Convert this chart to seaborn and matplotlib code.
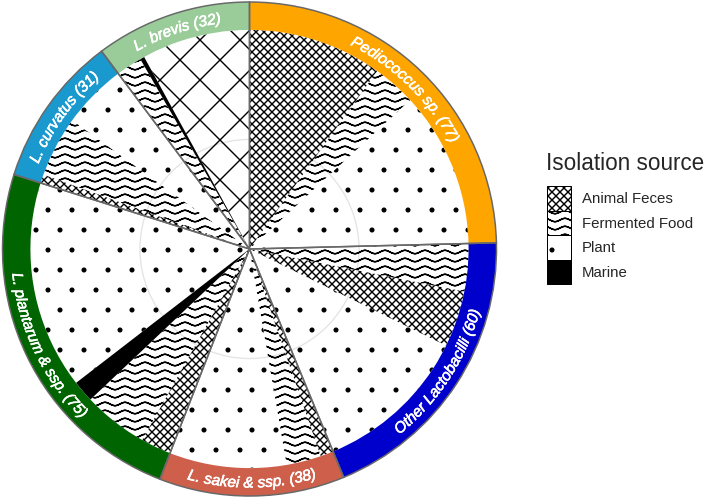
import numpy as np
import matplotlib
matplotlib.use("Agg")
import matplotlib.pyplot as plt
import matplotlib.hatch as mhatch
import matplotlib.patches as mpatches
import matplotlib.patheffects as pe
from matplotlib.path import Path
from matplotlib.font_manager import FontProperties, findfont, get_font
import seaborn as sns

# ---- data ----
groups = ["Pediococcus sp.", "Other Lactobacilli", "L. sakei & ssp.",
          "L. plantarum & ssp.", "L. curvatus", "L. brevis"]
group_counts = [77, 60, 38, 75, 31, 32]
group_colors = ["#FFA500", "#0000CD", "#CD5F4B", "#006400", "#1A99CE", "#99CC99"]

sources = ["Animal Feces", "Fermented Food", "Plant", "Marine"]

# isolation sources inside each group, clockwise
group_sources = [
    ["Animal Feces", "Fermented Food", "Plant"],
    ["Fermented Food", "Animal Feces", "Plant"],
    ["Animal Feces", "Fermented Food", "Plant"],
    ["Animal Feces", "Fermented Food", "Marine", "Plant"],
    ["Animal Feces", "Fermented Food", "Plant"],
    ["Fermented Food", "Marine", "Animal Feces"],
]
group_source_counts = [
    [31, 10, 36],
    [11, 13, 36],
    [3, 8, 27],
    [7, 15, 5, 48],
    [2, 14, 15],
    [6, 1, 25],
]

DPI = 120


# ---- ggpattern-like fills as custom hatches ----
class WaveHatch(mhatch.HatchPatternBase):
    """'-' drawn as wavy lines."""
    n_lines, n_waves, amp, n_pts = 15, 6, 0.0145, 49

    def __init__(self, hatch, density):
        self.num_lines = self.n_lines if "-" in hatch else 0
        self.seg = 2 * self.n_pts - 1
        self.num_vertices = self.num_lines * self.seg

    def set_vertices_and_codes(self, vertices, codes):
        t = np.linspace(0, 1, self.n_pts)
        xs = np.concatenate([t, t[-2::-1]])  # out and back, so the fill adds no area
        wave = self.amp * np.sin(2 * np.pi * self.n_waves * xs)
        for i in range(self.num_lines):
            s = slice(i * self.seg, (i + 1) * self.seg)
            vertices[s, 0] = xs
            vertices[s, 1] = (i + 0.5) / self.num_lines + wave
            codes[s] = Path.LINETO
            codes[i * self.seg] = Path.MOVETO


class CrossHatch(mhatch.HatchPatternBase):
    """'x' fine diagonal cross, '+' coarse diagonal cross."""

    def __init__(self, hatch, density):
        self.n = 15 if "x" in hatch else (3 if "+" in hatch else 0)
        self.num_vertices = 4 * (2 * self.n + 1) if self.n else 0

    def set_vertices_and_codes(self, vertices, codes):
        c = np.arange(-self.n, self.n + 1) / self.n
        m = len(c)
        vertices[0:2 * m:2] = np.column_stack([np.zeros(m), c])
        vertices[1:2 * m:2] = np.column_stack([np.ones(m), c + 1])
        vertices[2 * m::2] = np.column_stack([np.zeros(m), c + 1])
        vertices[2 * m + 1::2] = np.column_stack([np.ones(m), c])
        codes[0::2] = Path.MOVETO
        codes[1::2] = Path.LINETO


class DotHatch(mhatch.HatchPatternBase):
    """'.' staggered dots."""
    rows, cols, radius = 6, 5, 0.015

    def __init__(self, hatch, density):
        self.circle = Path.unit_circle()
        pts = []
        if "." in hatch:
            for r in range(self.rows):
                if r % 2 == 0:
                    xs = (np.arange(self.cols) + 0.5) / self.cols
                else:
                    xs = np.arange(self.cols + 1) / self.cols
                pts += [(x, (r + 0.5) / self.rows) for x in xs]
        self.centers = pts
        self.num_vertices = len(pts) * len(self.circle.vertices)

    def set_vertices_and_codes(self, vertices, codes):
        k = len(self.circle.vertices)
        for i, (x, y) in enumerate(self.centers):
            vertices[i * k:(i + 1) * k] = self.circle.vertices * self.radius + (x, y)
            codes[i * k:(i + 1) * k] = self.circle.codes


mhatch._hatch_types[:] = [WaveHatch, CrossHatch, DotHatch]

source_hatch = {"Animal Feces": "x", "Fermented Food": "-", "Plant": ".", "Marine": ""}
coarse_groups = ["L. brevis"]

sns.set_theme(style="white")
plt.rcParams["font.family"] = ["Liberation Sans", "DejaVu Sans"]
plt.rcParams["hatch.linewidth"] = 0.85
palette = sns.color_palette(group_colors)

fig = plt.figure(figsize=(708 / DPI, 498 / DPI), dpi=DPI)
cx, cy, R_px = 249.5, 249.0, 247.0
lim = 1.02
half = R_px * lim
ax = fig.add_axes([(cx - half) / 708, (498 - cy - half) / 498,
                   2 * half / 708, 2 * half / 498])

r_ring = 0.887

flat_n, flat_hatch, flat_face = [], [], []
for g, src, cnt in zip(groups, group_sources, group_source_counts):
    for s, n in zip(src, cnt):
        flat_n.append(n)
        h = source_hatch[s]
        if h == "x" and g in coarse_groups:
            h = "+"
        flat_hatch.append(h)
        flat_face.append("black" if s == "Marine" else "none")

ax.add_patch(mpatches.Circle((0, 0), r_ring / 2, fill=False, ec="#e4e4e4",
                             lw=0.8, zorder=0))
ax.pie(flat_n, radius=r_ring, startangle=90, counterclock=False,
       colors=flat_face, hatch=flat_hatch,
       wedgeprops=dict(linewidth=0, edgecolor="black"))
ax.pie(group_counts, radius=1, startangle=90, counterclock=False, colors=palette,
       wedgeprops=dict(width=1 - r_ring, linewidth=0))
ax.pie(group_counts, radius=1, startangle=90, counterclock=False,
       colors=["none"] * len(groups),
       wedgeprops=dict(edgecolor="#686868", linewidth=0.9))

ax.set_xlim(-lim, lim)
ax.set_ylim(-lim, lim)
ax.set_aspect("equal")
ax.axis("off")

# ---- curved labels on the ring ----
label_prop = FontProperties(family="Liberation Sans", style="italic", size=9.2)
face = get_font(findfont(label_prop))
face.set_size(9.2, DPI)
cap = 0.716 * 9.2 * DPI / 72
thicker = [pe.withStroke(linewidth=0.35, foreground="white")]


def curved_label(text, mid_deg, r_mid):
    adv = np.array([face.load_char(ord(ch)).linearHoriAdvance / 65536 for ch in text])
    top = mid_deg < 90 or mid_deg > 270
    r_base_px = r_mid * R_px + (-cap / 2 if top else cap / 2)
    r_base = r_base_px / R_px
    pos = np.cumsum(adv) - adv / 2 - adv.sum() / 2
    for ch, p in zip(text, pos):
        if ch == " ":
            continue
        d = np.degrees(p / r_base_px)
        a = mid_deg + d if top else mid_deg - d
        rot = -a if top else 180 - a
        ax.text(r_base * np.sin(np.radians(a)), r_base * np.cos(np.radians(a)), ch,
                rotation=rot, rotation_mode="anchor", ha="center", va="baseline",
                color="white", fontproperties=label_prop, path_effects=thicker)


total = sum(group_counts)
start = 0
for g, n in zip(groups, group_counts):
    mid = (start + n / 2) / total * 360
    curved_label(f"{g} ({n})", mid, (r_ring + 1) / 2)
    start += n

# ---- legend ----
handles = []
for s in sources:
    handles.append(mpatches.Patch(facecolor="black" if s == "Marine" else "white",
                                  edgecolor="black", linewidth=0.6,
                                  hatch=source_hatch[s]))
fig.legend(handles, sources, loc="upper left",
           bbox_to_anchor=(547 / 708, (498 - 186) / 498), frameon=False,
           borderpad=0, borderaxespad=0, labelspacing=0, handlelength=1.63,
           handleheight=2.14, handletextpad=0.67, fontsize=9)
fig.text(546 / 708, (498 - 170) / 498, "Isolation source", fontsize=13.5,
         ha="left", va="baseline")

fig.savefig("out.png", dpi=DPI)
